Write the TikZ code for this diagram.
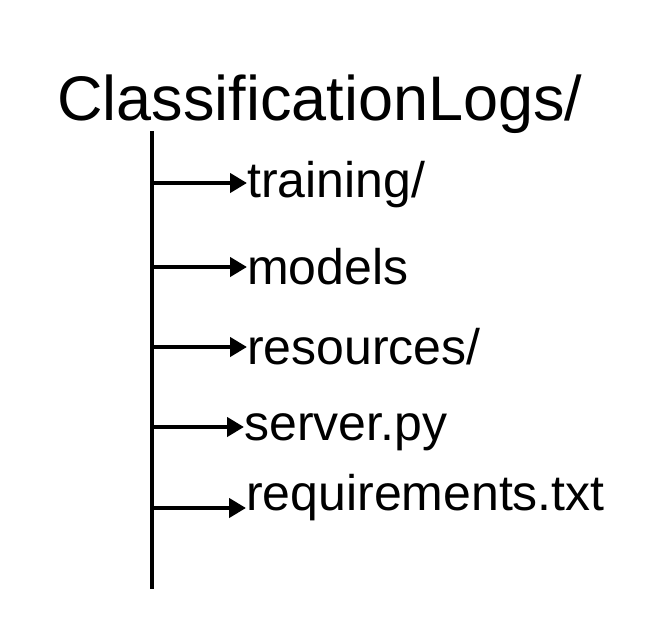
\documentclass[tikz,border=0pt]{standalone}
\usepackage{fontspec}
\setmainfont{Liberation Sans}
\usetikzlibrary{arrows.meta}
\begin{document}
\begin{tikzpicture}[x=1pt,y=-1pt,
  title/.style={anchor=base west,inner sep=0pt,font=\fontsize{63}{70}\selectfont},
  item/.style={anchor=base west,inner sep=0pt,font=\fontsize{50}{56}\selectfont},
  trunk/.style={line width=4.8pt},
  branch/.style={line width=4.4pt,arrows={-Triangle[length=17pt,width=19pt]}}]
\useasboundingbox (0,0) rectangle (664,626);
\node[title] (root) at (57,120) {ClassificationLogs/};
\coordinate (top) at (152,131);
\coordinate (bot) at (152,589);
\draw[trunk] (top) -- (bot);
\node[item] (l1) at (247,197) {training/};
\node[item] (l2) at (247,284) {models};
\node[item] (l3) at (247,364) {resources/};
\node[item] (l4) at (244,440) {server.py};
\node[item] (l5) at (246,510) {requirements.txt};
\coordinate (b1) at (152,183);
\coordinate (b2) at (152,267);
\coordinate (b3) at (152,347);
\coordinate (b4) at (152,427);
\coordinate (b5) at (152,508);
\draw[branch] (b1) -- (b1 -| l1.west);
\draw[branch] (b2) -- (b2 -| l2.west);
\draw[branch] (b3) -- (b3 -| l3.west);
\draw[branch] (b4) -- (b4 -| l4.west);
\draw[branch] (b5) -- (b5 -| l5.west);
\end{tikzpicture}
\end{document}
